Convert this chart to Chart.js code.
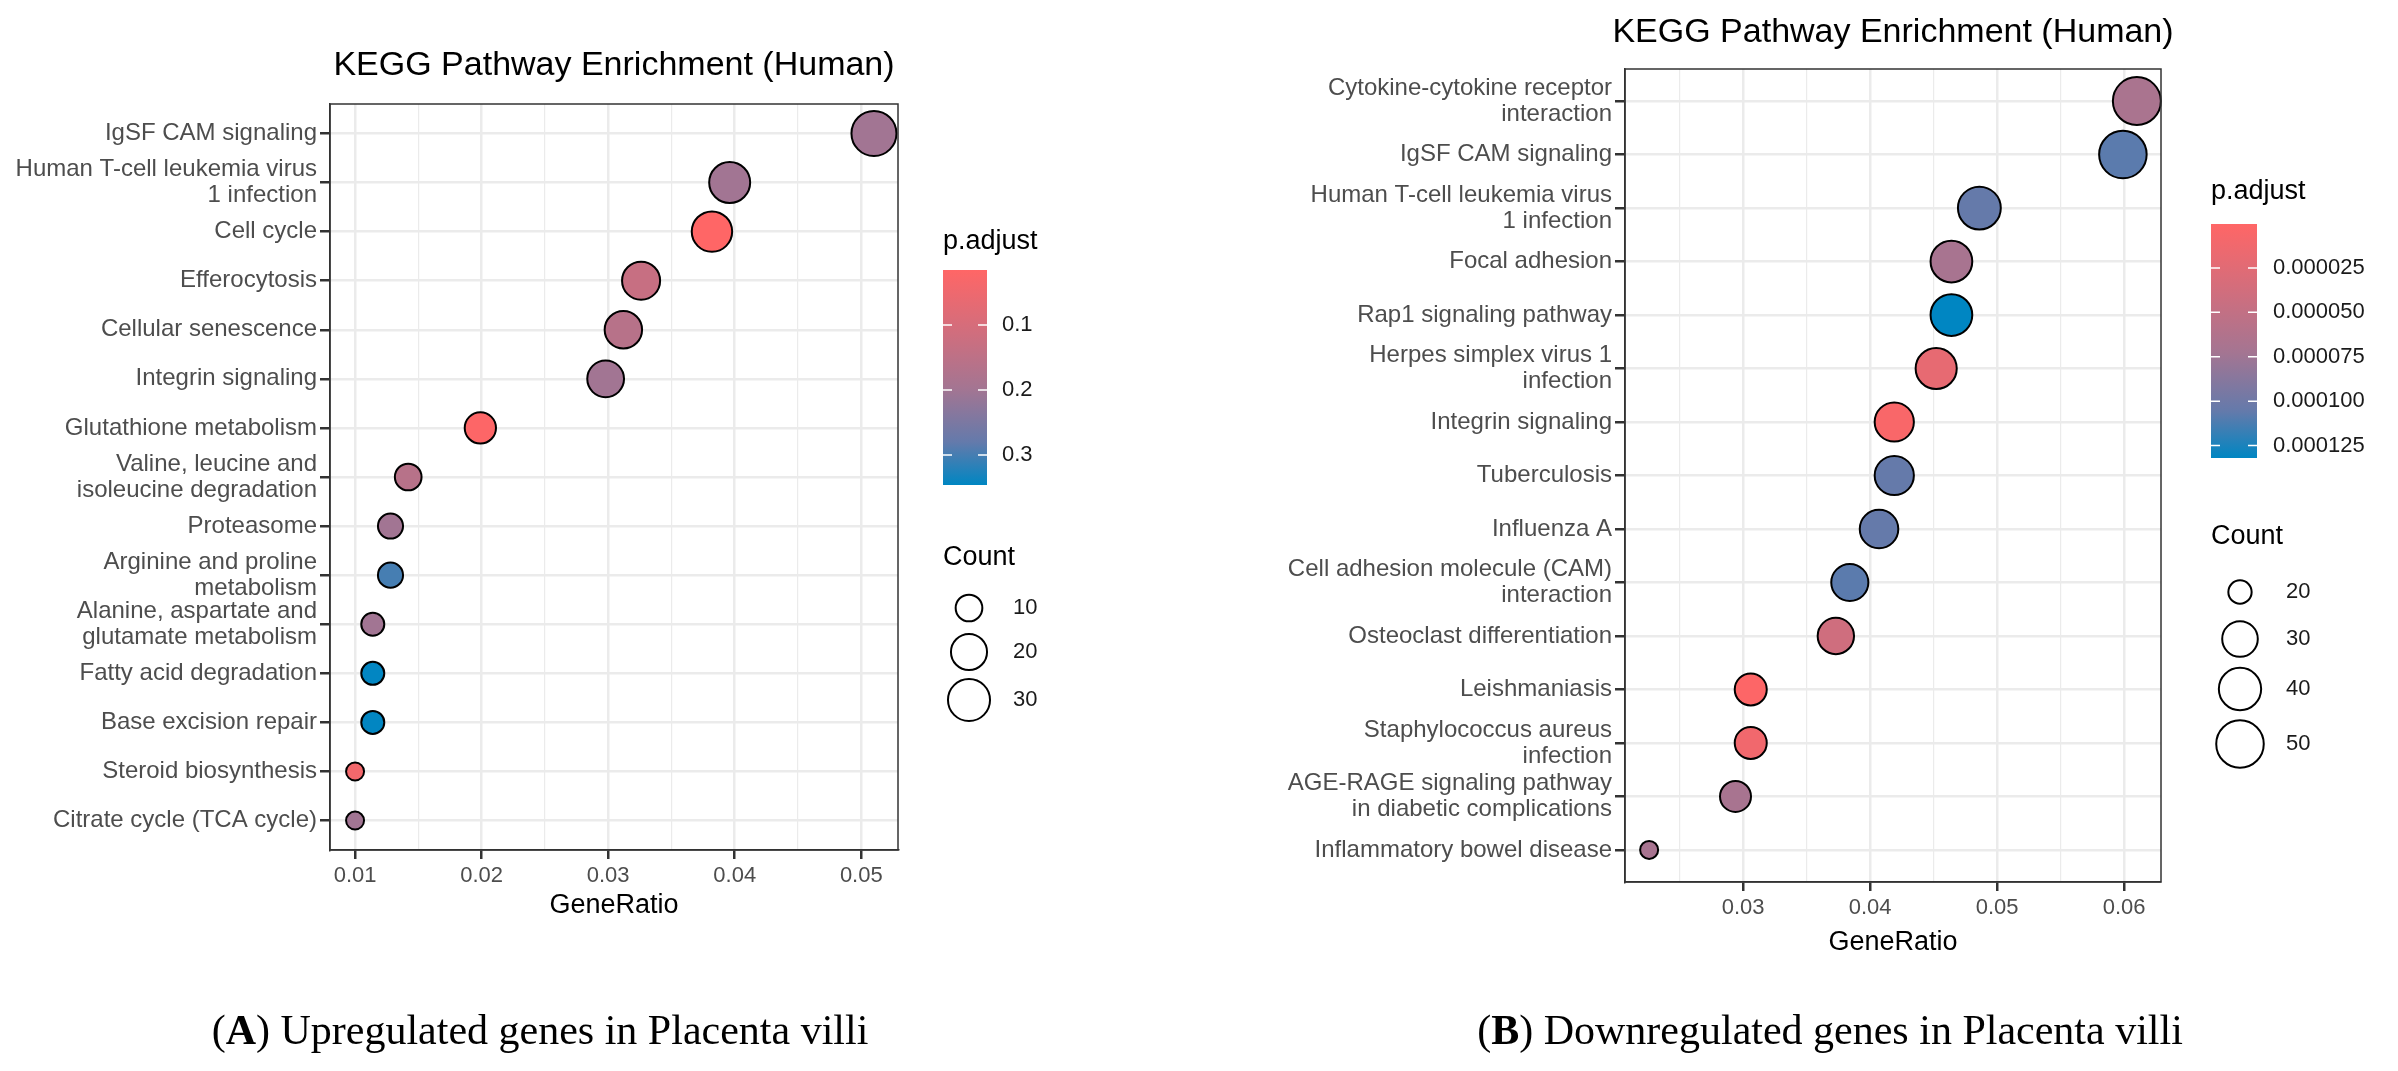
<!DOCTYPE html>
<html>
<head>
<meta charset="utf-8">
<script src="https://cdn.jsdelivr.net/npm/chart.js@4.4.1/dist/chart.umd.min.js"></script>
<style>
  html, body { margin: 0; padding: 0; background: #fff; }
  canvas { position: absolute; left: 0; top: 0; }
</style>
</head>
<body>
<canvas id="upChart" width="2398" height="1071"></canvas>
<canvas id="downChart" width="2398" height="1071"></canvas>
<script>
// ---- data (A) upregulated ----
const upPathways = [
  "IgSF CAM signaling",
  "Human T-cell leukemia virus\n1 infection",
  "Cell cycle",
  "Efferocytosis",
  "Cellular senescence",
  "Integrin signaling",
  "Glutathione metabolism",
  "Valine, leucine and\nisoleucine degradation",
  "Proteasome",
  "Arginine and proline\nmetabolism",
  "Alanine, aspartate and\nglutamate metabolism",
  "Fatty acid degradation",
  "Base excision repair",
  "Steroid biosynthesis",
  "Citrate cycle (TCA cycle)"
];
const upRatio = [0.0510, 0.0396, 0.0382, 0.0326, 0.0312, 0.0298, 0.0199, 0.0142, 0.0128, 0.0128, 0.0114, 0.0114, 0.0114, 0.0100, 0.0100];
const upCount = [36, 28, 27, 23, 22, 21, 14, 10, 9, 9, 8, 8, 8, 7, 7];
const upPadj = [0.20, 0.20, 0.016, 0.13, 0.16, 0.20, 0.02, 0.16, 0.20, 0.30, 0.20, 0.345, 0.345, 0.04, 0.20];
const upXTicks = [0.01, 0.015, 0.02, 0.025, 0.03, 0.035, 0.04, 0.045, 0.05];
const upPadjTicks = [0.1, 0.2, 0.3];
const upCountBreaks = [10, 20, 30];

// ---- data (B) downregulated ----
const downPathways = [
  "Cytokine-cytokine receptor\ninteraction",
  "IgSF CAM signaling",
  "Human T-cell leukemia virus\n1 infection",
  "Focal adhesion",
  "Rap1 signaling pathway",
  "Herpes simplex virus 1\ninfection",
  "Integrin signaling",
  "Tuberculosis",
  "Influenza A",
  "Cell adhesion molecule (CAM)\ninteraction",
  "Osteoclast differentiation",
  "Leishmaniasis",
  "Staphylococcus aureus\ninfection",
  "AGE-RAGE signaling pathway\nin diabetic complications",
  "Inflammatory bowel disease"
];
const downRatio = [0.0610, 0.0599, 0.0486, 0.0464, 0.0464, 0.0452, 0.0419, 0.0419, 0.0407, 0.0384, 0.0373, 0.0306, 0.0306, 0.0294, 0.0226];
const downCount = [51, 50, 41, 39, 39, 38, 35, 35, 34, 32, 31, 26, 26, 25, 19];
const downPadj = [0.000068, 0.000108, 0.000105, 0.00007, 0.000132, 0.00002, 0.000005, 0.000105, 0.000105, 0.000108, 0.00004, 0.000002, 0.000012, 0.00007, 0.00007];
const downXTicks = [0.025, 0.03, 0.035, 0.04, 0.045, 0.05, 0.055, 0.06];
const downPadjTicks = [0.000025, 0.00005, 0.000075, 0.0001, 0.000125];
const downPadjLabels = ["0.000025", "0.000050", "0.000075", "0.000100", "0.000125"];
const downCountBreaks = [20, 30, 40, 50];

const colorStops = [[0, [255, 102, 102]], [0.3, [207, 110, 126]], [0.55, [164, 117, 146]], [0.8, [100, 122, 171]], [1, [0, 134, 194]]];

function colorAt(t) {
  t = Math.max(0, Math.min(1, t));
  for (let i = 1; i < colorStops.length; i++) {
    if (t <= colorStops[i][0]) {
      const [t0, c0] = colorStops[i - 1];
      const [t1, c1] = colorStops[i];
      const f = (t - t0) / (t1 - t0);
      const c = c0.map((v, k) => Math.round(v + (c1[k] - v) * f));
      return `rgb(${c[0]},${c[1]},${c[2]})`;
    }
  }
}

function makeRadius(cmin, cmax, rmin, rmax) {
  return (c) => rmin + (rmax - rmin) * Math.sqrt(Math.max(0, (c - cmin) / (cmax - cmin)));
}

function buildChart(id, cfg) {
  const radius = makeRadius(cfg.cmin, cfg.cmax, cfg.rmin, cfg.rmax);
  const points = cfg.ratio.map((x, i) => ({ x: x, y: i, r: radius(cfg.count[i]) }));
  const colors = cfg.padj.map((p) => colorAt((p - cfg.pmin) / (cfg.pmax - cfg.pmin)));
  const a = cfg.area;

  const decor = {
    id: "decor",
    afterDraw(chart) {
      const ctx = chart.ctx;
      const ca = chart.chartArea;
      ctx.save();
      ctx.strokeStyle = "#333";
      ctx.lineWidth = 1.5;
      ctx.strokeRect(ca.left, ca.top, ca.right - ca.left, ca.bottom - ca.top);

      ctx.fillStyle = "#000";
      ctx.textAlign = "center";
      ctx.textBaseline = "middle";
      ctx.font = "34px 'Liberation Sans', Arial, sans-serif";
      ctx.fillText("KEGG Pathway Enrichment (Human)", (ca.left + ca.right) / 2, cfg.titleY);
      ctx.font = "27px 'Liberation Sans', Arial, sans-serif";
      ctx.fillText("GeneRatio", (ca.left + ca.right) / 2, cfg.xTitleY);

      // caption: "(" + bold letter + ") text"
      const capA = "(";
      const capB = cfg.letter;
      const capC = ") " + cfg.caption;
      ctx.font = "42px 'Liberation Serif', serif";
      const w1 = ctx.measureText(capA).width;
      const w3 = ctx.measureText(capC).width;
      ctx.font = "bold 42px 'Liberation Serif', serif";
      const w2 = ctx.measureText(capB).width;
      const x = cfg.capX - (w1 + w2 + w3) / 2;
      ctx.textAlign = "left";
      ctx.font = "42px 'Liberation Serif', serif";
      ctx.fillText(capA, x, 1033);
      ctx.font = "bold 42px 'Liberation Serif', serif";
      ctx.fillText(capB, x + w1, 1033);
      ctx.font = "42px 'Liberation Serif', serif";
      ctx.fillText(capC, x + w1 + w2, 1033);

      // p.adjust colour bar
      const cb = cfg.bar;
      ctx.font = "27px 'Liberation Sans', Arial, sans-serif";
      ctx.fillStyle = "#000";
      ctx.fillText("p.adjust", cb.x, cb.titleY);
      const g = ctx.createLinearGradient(0, cb.top, 0, cb.bottom);
      colorStops.forEach(([t]) => g.addColorStop(t, colorAt(t)));
      ctx.fillStyle = g;
      ctx.fillRect(cb.x, cb.top, cb.w, cb.bottom - cb.top);
      ctx.strokeStyle = "#fff";
      ctx.lineWidth = 1.5;
      ctx.font = "22px 'Liberation Sans', Arial, sans-serif";
      cfg.padjTicks.forEach((v, i) => {
        const y = cb.top + (v - cfg.pmin) / (cfg.pmax - cfg.pmin) * (cb.bottom - cb.top);
        ctx.beginPath();
        ctx.moveTo(cb.x, y); ctx.lineTo(cb.x + 9, y);
        ctx.moveTo(cb.x + cb.w - 9, y); ctx.lineTo(cb.x + cb.w, y);
        ctx.stroke();
        ctx.fillStyle = "#1a1a1a";
        ctx.fillText(cfg.padjLabels[i], cb.labelX, y);
      });

      // Count legend
      const cl = cfg.countLegend;
      ctx.fillStyle = "#000";
      ctx.font = "27px 'Liberation Sans', Arial, sans-serif";
      ctx.fillText("Count", cb.x, cl.titleY);
      ctx.font = "22px 'Liberation Sans', Arial, sans-serif";
      ctx.strokeStyle = "#000";
      ctx.lineWidth = 2;
      cfg.countBreaks.forEach((c, i) => {
        ctx.beginPath();
        ctx.arc(cl.cx, cl.ys[i], radius(c), 0, Math.PI * 2);
        ctx.stroke();
        ctx.fillStyle = "#1a1a1a";
        ctx.fillText(String(c), cl.labelX, cl.ys[i]);
      });
      ctx.restore();
    }
  };

  return new Chart(document.getElementById(id), {
    type: "bubble",
    data: {
      datasets: [{
        data: points,
        backgroundColor: colors,
        borderColor: "#000",
        borderWidth: 2,
        clip: false,
      }],
    },
    options: {
      responsive: false,
      animation: false,
      devicePixelRatio: 1,
      layout: { padding: { left: 0, right: 2398 - a.right, top: a.top, bottom: 0 } },
      plugins: { legend: false, tooltip: { enabled: false } },
      scales: {
        x: {
          type: "linear",
          min: cfg.xMin,
          max: cfg.xMax,
          afterFit: (s) => { s.height = 1071 - a.bottom; },
          afterBuildTicks: (s) => { s.ticks = cfg.xTicks.map((v) => ({ value: v })); },
          ticks: {
            autoSkip: false,
            maxRotation: 0,
            color: "#4d4d4d",
            font: { family: "'Liberation Sans', Arial, sans-serif", size: 22 },
            padding: 4,
            callback: (v) => (Math.round(v * 1000) % 10 === 0 ? v.toFixed(2) : ""),
          },
          grid: {
            color: "#ebebeb",
            lineWidth: (c) => (Math.round(c.tick.value * 1000) % 10 === 0 ? 2.5 : 1.2),
            tickColor: (c) => (Math.round(c.tick.value * 1000) % 10 === 0 ? "#333" : "rgba(0,0,0,0)"),
            tickLength: 9,
          },
          border: { display: true, color: "#333", width: 1.5 },
        },
        y: {
          type: "linear",
          reverse: true,
          min: -0.6,
          max: cfg.labels.length - 0.4,
          afterFit: (s) => { s.width = a.left; },
          afterBuildTicks: (s) => { s.ticks = cfg.labels.map((_, i) => ({ value: i })); },
          ticks: {
            autoSkip: false,
            color: "#4d4d4d",
            font: { family: "'Liberation Sans', Arial, sans-serif", size: 24, lineHeight: 1.08 },
            padding: 3,
            callback: (v) => cfg.labels[v] ? cfg.labels[v].split("\n") : "",
          },
          grid: { color: "#ebebeb", lineWidth: 2.5, tickColor: "#333", tickLength: 10 },
          border: { display: true, color: "#333", width: 1.5 },
        },
      },
    },
    plugins: [decor],
  });
}

buildChart("upChart", {
  labels: upPathways, ratio: upRatio, count: upCount, padj: upPadj,
  xTicks: upXTicks, xMin: 0.00802, xMax: 0.0529,
  area: { left: 330, right: 898, top: 104, bottom: 850 },
  cmin: 7, cmax: 36, rmin: 9, rmax: 22.5,
  pmin: 0.0154, pmax: 0.346,
  padjTicks: upPadjTicks, padjLabels: upPadjTicks.map(String),
  countBreaks: upCountBreaks,
  bar: { x: 943, w: 44, top: 270, bottom: 485, titleY: 242, labelX: 1002 },
  countLegend: { titleY: 558, cx: 969, ys: [608, 652, 700], labelX: 1013 },
  titleY: 66, xTitleY: 906,
  letter: "A", caption: "Upregulated genes in Placenta villi", capX: 540,
});

buildChart("downChart", {
  labels: downPathways, ratio: downRatio, count: downCount, padj: downPadj,
  xTicks: downXTicks, xMin: 0.0207, xMax: 0.0629,
  area: { left: 1625, right: 2161, top: 69, bottom: 882 },
  cmin: 19, cmax: 51, rmin: 9, rmax: 24,
  pmin: 0.0000003, pmax: 0.000132,
  padjTicks: downPadjTicks, padjLabels: downPadjLabels,
  countBreaks: downCountBreaks,
  bar: { x: 2211, w: 46, top: 224, bottom: 458, titleY: 192, labelX: 2273 },
  countLegend: { titleY: 537, cx: 2240, ys: [592, 639, 689, 744], labelX: 2286 },
  titleY: 33, xTitleY: 943,
  letter: "B", caption: "Downregulated genes in Placenta villi", capX: 1830,
});
</script>
</body>
</html>
